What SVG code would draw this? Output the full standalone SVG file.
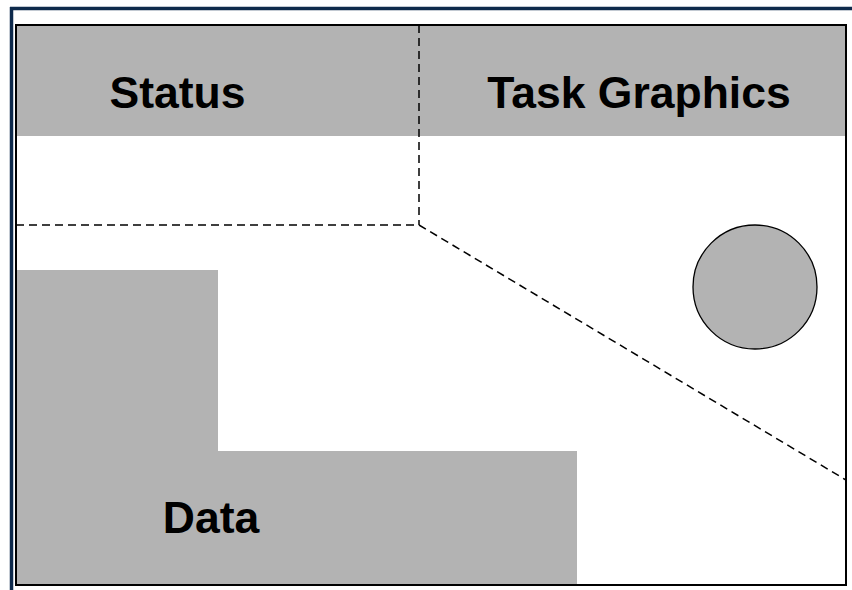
<svg xmlns="http://www.w3.org/2000/svg" width="852" height="590" viewBox="0 0 852 590">
<style>
.lbl{font-family:"Liberation Sans",Arial,sans-serif;font-weight:bold;font-size:44.5px;fill:#000;text-anchor:middle}
.gray{fill:#b3b3b3}
.dash{fill:none;stroke:#000;stroke-width:1.5;stroke-dasharray:8,5}
</style>
<rect x="0" y="0" width="852" height="590" fill="#fff"/>
<g id="frame">
<line x1="11.5" y1="7" x2="11.5" y2="590" stroke="#0e2a4c" stroke-width="3.5"/>
<line x1="10" y1="8.5" x2="852" y2="8.5" stroke="#0e2a4c" stroke-width="3.5"/>
</g>
<g id="status">
<rect class="gray" x="16" y="25" width="403" height="111"/>
<text class="lbl" x="177.5" y="108">Status</text>
</g>
<g id="task-graphics">
<rect class="gray" x="419" y="25" width="427" height="111"/>
<text class="lbl" x="639" y="108">Task Graphics</text>
<circle cx="755" cy="287" r="62" fill="#b3b3b3" stroke="#000" stroke-width="1.3"/>
</g>
<g id="data">
<path class="gray" d="M16,270 H218 V451 H577 V585 H16 Z"/>
<text class="lbl" x="211" y="533">Data</text>
</g>
<g id="connectors">
<line class="dash" x1="419" y1="25" x2="419" y2="225"/>
<line class="dash" x1="16" y1="225" x2="419" y2="225"/>
<line class="dash" x1="419" y1="225" x2="846" y2="480"/>
</g>
<rect x="16" y="25" width="830" height="560" fill="none" stroke="#000" stroke-width="2"/>
</svg>
